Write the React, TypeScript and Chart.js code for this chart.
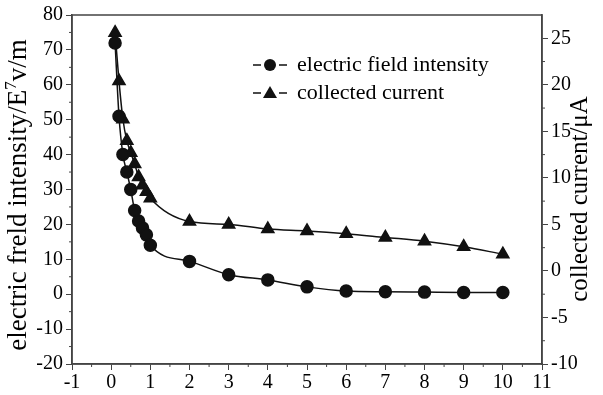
import React, { useEffect, useRef } from "react";
import { Chart, registerables } from "chart.js";
Chart.register(...registerables);

const fieldX = [0.1, 0.2, 0.3, 0.4, 0.5, 0.6, 0.7, 0.8, 0.9, 1, 2, 3, 4, 5, 6, 7, 8, 9, 10];
const fieldY = [72, 51, 40, 35, 30, 24, 21, 19, 17, 14, 9.4, 5.6, 4.1, 2.1, 0.9, 0.7, 0.6, 0.5, 0.5];
const currentX = [0.1, 0.2, 0.3, 0.4, 0.5, 0.6, 0.7, 0.8, 0.9, 1, 2, 3, 4, 5, 6, 7, 8, 9, 10];
const currentY = [25.6, 20.4, 16.3, 14.0, 12.7, 11.5, 10.1, 9.2, 8.5, 7.8, 5.3, 5.0, 4.5, 4.3, 4.0, 3.6, 3.2, 2.6, 1.8];
const legendLabels = ["electric field intensity", "collected current"];
const leftTitleParts = ["electric freld intensity/E", "7", "v/m"];
const rightTitle = "collected current/\u03bcA";

const FONT = "'Liberation Serif', 'Times New Roman', serif";
const AXIS = "#444";
const MARK = "#111";

const decor = {
  id: "decor",
  afterDraw(chart: any) {
    const ctx = chart.ctx;
    const a = chart.chartArea;
    const sx = chart.scales.x, sy = chart.scales.y, sy1 = chart.scales.y1;
    ctx.save();
    ctx.strokeStyle = AXIS;
    ctx.lineWidth = 1.5;
    ctx.strokeRect(a.left, a.top, a.right - a.left, a.bottom - a.top);
    // minor ticks
    ctx.lineWidth = 1;
    ctx.beginPath();
    for (let v = -0.5; v < 11; v += 1) {
      const p = sx.getPixelForValue(v);
      ctx.moveTo(p, a.bottom); ctx.lineTo(p, a.bottom + 3);
    }
    for (let v = -15; v < 80; v += 10) {
      const p = sy.getPixelForValue(v);
      ctx.moveTo(a.left, p); ctx.lineTo(a.left - 3, p);
    }
    for (let v = -7.5; v < 27.5; v += 5) {
      const p = sy1.getPixelForValue(v);
      ctx.moveTo(a.right, p); ctx.lineTo(a.right + 3, p);
    }
    ctx.stroke();
    // titles
    ctx.fillStyle = "#000";
    ctx.textBaseline = "middle";
    const big = `27px ${FONT}`;
    const small = `17px ${FONT}`;
    ctx.font = big;
    const w0 = ctx.measureText(leftTitleParts[0]).width;
    const w2 = ctx.measureText(leftTitleParts[2]).width;
    ctx.font = small;
    const w1 = ctx.measureText(leftTitleParts[1]).width;
    const total = w0 + w1 + w2;
    ctx.save();
    ctx.translate(19, 195);
    ctx.rotate(-Math.PI / 2);
    ctx.textAlign = "left";
    let xx = -total / 2;
    ctx.font = big;
    ctx.fillText(leftTitleParts[0], xx, 0);
    xx += w0;
    ctx.font = small;
    ctx.fillText(leftTitleParts[1], xx, -7);
    xx += w1;
    ctx.font = big;
    ctx.fillText(leftTitleParts[2], xx, 0);
    ctx.restore();
    ctx.save();
    ctx.translate(580, 199);
    ctx.rotate(-Math.PI / 2);
    ctx.textAlign = "center";
    ctx.font = `25px ${FONT}`;
    ctx.fillText(rightTitle, 0, 0);
    ctx.restore();
    // legend
    const rows = [65, 93];
    const styles = ["circle", "triangle"];
    rows.forEach((y, i) => {
      ctx.strokeStyle = MARK;
      ctx.lineWidth = 1.5;
      ctx.beginPath();
      ctx.moveTo(253, y); ctx.lineTo(261, y);
      ctx.moveTo(279, y); ctx.lineTo(287, y);
      ctx.stroke();
      ctx.fillStyle = MARK;
      ctx.beginPath();
      if (styles[i] === "circle") {
        ctx.arc(270, y, 6, 0, Math.PI * 2);
      } else {
        ctx.moveTo(270, y - 7);
        ctx.lineTo(277, y + 5);
        ctx.lineTo(263, y + 5);
        ctx.closePath();
      }
      ctx.fill();
      ctx.fillStyle = "#000";
      ctx.font = `22px ${FONT}`;
      ctx.textAlign = "left";
      ctx.fillText(legendLabels[i], 297, y);
    });
    ctx.restore();
  },
};

export default function App() {
  const ref = useRef<HTMLCanvasElement>(null);
  useEffect(() => {
    if (!ref.current) return;
    const tickFont = { family: FONT, size: 20 };
    const chart = new Chart(ref.current, {
      type: "scatter",
      data: {
        datasets: [
          {
            label: legendLabels[0],
            data: fieldX.map((x, i) => ({ x, y: fieldY[i] })),
            yAxisID: "y",
            showLine: true,
            borderColor: MARK,
            backgroundColor: MARK,
            borderWidth: 1.5,
            pointStyle: "circle",
            pointRadius: 6,
            cubicInterpolationMode: "monotone",
          },
          {
            label: legendLabels[1],
            data: currentX.map((x, i) => ({ x, y: currentY[i] })),
            yAxisID: "y1",
            showLine: true,
            borderColor: MARK,
            backgroundColor: MARK,
            borderWidth: 1.5,
            pointStyle: "triangle",
            pointRadius: 7,
            cubicInterpolationMode: "monotone",
          },
        ],
      },
      options: {
        responsive: false,
        animation: false,
        layout: { padding: { top: 14, left: 0, right: 0, bottom: 0 } },
        plugins: { legend: { display: false }, tooltip: { enabled: false } },
        scales: {
          x: {
            type: "linear",
            min: -1,
            max: 11,
            afterFit: (s: any) => { s.height = 31; },
            ticks: { stepSize: 1, color: "#000", font: tickFont, padding: 1, maxRotation: 0 },
            grid: { drawOnChartArea: false, tickLength: 6, color: AXIS },
            border: { color: AXIS, width: 1.5 },
          },
          y: {
            position: "left",
            min: -20,
            max: 80,
            afterFit: (s: any) => { s.width = 72; },
            ticks: { stepSize: 10, color: "#000", font: tickFont, padding: 3 },
            grid: { drawOnChartArea: false, tickLength: 6, color: AXIS },
            border: { color: AXIS, width: 1.5 },
          },
          y1: {
            position: "right",
            min: -10,
            max: 27.5,
            afterFit: (s: any) => { s.width = 61; },
            ticks: {
              stepSize: 5,
              includeBounds: false,
              color: "#000",
              font: tickFont,
              padding: 3,
              callback: (v: any) => (Number(v) % 5 === 0 ? String(v) : ""),
            },
            grid: { drawOnChartArea: false, tickLength: 6, color: AXIS },
            border: { color: AXIS, width: 1.5 },
          },
        },
      },
      plugins: [decor],
    } as any);
    return () => chart.destroy();
  }, []);
  return (
    <div style={{ position: "absolute", left: 0, top: 0, width: 603, height: 395, background: "#fff" }}>
      <canvas ref={ref} width={603} height={395} />
    </div>
  );
}
